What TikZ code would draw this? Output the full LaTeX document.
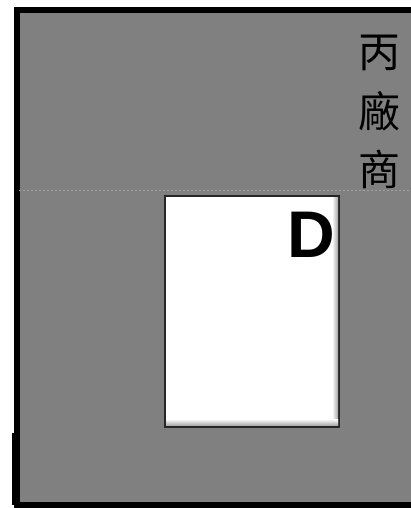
\documentclass[tikz,border=0pt]{standalone}
\usepackage{fontspec}
\setmainfont{Liberation Sans}
\newfontfamily\cjk{Noto Sans CJK TC}
\definecolor{panelgray}{HTML}{808080}
\definecolor{seamgray}{HTML}{A0A0A0}
\begin{document}
\begin{tikzpicture}[x=1pt,y=-1pt,
    panel/.style={fill=panelgray,draw=black,line width=6pt},
    card/.style={fill=white,draw=black!85,line width=2pt},
    cardletter/.style={font=\bfseries\fontsize{66}{66}\selectfont,inner sep=0pt},
    vendorchar/.style={font=\cjk\fontsize{42}{42}\selectfont,inner sep=0pt}
]
\useasboundingbox (0,0) rectangle (411,508);
\clip (0,0) rectangle (411,508);
% outer panel
\draw[panel] (16.5,10) rectangle (425,504.5);
\draw[line width=6pt] (15,433) -- (15,504.5);
\draw[seamgray,dashed,line width=0.4pt,dash pattern=on 2pt off 2pt] (19,190) -- (411,190);
% vendor label
\foreach \c [count=\i] in {丙,廠,商}{
    \node[vendorchar] (vendor\i) at (379,{52.5+58.5*(\i-1)}) {\c};
}
% card D
\draw[card] (164.5,195.5) rectangle (339,426.5);
\shade[left color=white,right color=black!35] (332,197) rectangle (338,425);
\shade[top color=white,bottom color=black!35] (166,419) rectangle (338,425.5);
\node[cardletter,anchor=base east] (cardD) at (335,257.7) {D};
\end{tikzpicture}
\end{document}
